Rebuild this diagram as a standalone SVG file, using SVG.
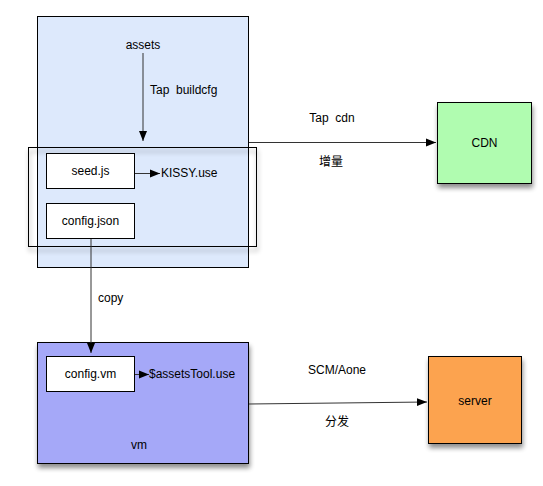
<svg xmlns="http://www.w3.org/2000/svg" width="543" height="486" viewBox="0 0 543 486">
<defs>
<filter id="sh" x="-20%" y="-20%" width="150%" height="150%">
<feGaussianBlur in="SourceAlpha" stdDeviation="2.5"/>
<feOffset dx="1" dy="4" result="b"/>
<feComponentTransfer><feFuncA type="linear" slope="0.45"/></feComponentTransfer>
<feMerge><feMergeNode/><feMergeNode in="SourceGraphic"/></feMerge>
</filter>
<marker id="ah" viewBox="0 0 10 10" refX="10" refY="5" markerWidth="10" markerHeight="10" markerUnits="userSpaceOnUse" orient="auto">
<path d="M0,1 L10,5 L0,9 Z" fill="#000"/>
</marker>
</defs>
<style>
text{font-family:"Liberation Sans","Noto Sans CJK SC",sans-serif;font-size:12px;fill:#000}
.m{text-anchor:middle}
.b{stroke:#000;stroke-width:1}
.c{stroke:#333;stroke-width:1;fill:none}
</style>
<rect width="543" height="486" fill="#fff"/>
<g id="assets">
<rect class="b" x="37.5" y="16.5" width="211" height="251" fill="#dde9fc"/>
<text class="m" x="143" y="49">assets</text>
</g>
<g id="frame">
<rect class="b" x="28.5" y="147.5" width="228" height="99" fill="none" filter="url(#sh)"/>
</g>
<g id="seed">
<rect class="b" x="46.5" y="153.5" width="88" height="35" fill="#fff"/>
<text class="m" x="90.5" y="175">seed.js</text>
</g>
<g id="configjson">
<rect class="b" x="46.5" y="203.5" width="88" height="35" fill="#fff"/>
<text class="m" x="90.5" y="225">config.json</text>
</g>
<g id="cdn">
<rect class="b" x="437.5" y="102.5" width="94" height="81" fill="#b0fcb0" filter="url(#sh)"/>
<text class="m" x="484.5" y="147">CDN</text>
</g>
<g id="vm">
<rect class="b" x="37.5" y="342.5" width="211" height="121" fill="#a5a8f8" filter="url(#sh)"/>
<text class="m" x="139" y="449">vm</text>
</g>
<g id="configvm">
<rect class="b" x="46.5" y="356.5" width="88" height="35" fill="#fff"/>
<text class="m" x="90.5" y="378">config.vm</text>
</g>
<g id="server">
<rect class="b" x="428.5" y="356.5" width="93" height="87" fill="#fca34f" filter="url(#sh)"/>
<text class="m" x="475" y="405">server</text>
</g>
<g id="connectors">
<line class="c" x1="143" y1="53" x2="143" y2="141" marker-end="url(#ah)"/>
<text x="150" y="94" xml:space="preserve">Tap  buildcfg</text>
<line class="c" x1="135" y1="173.5" x2="160" y2="173.5" marker-end="url(#ah)"/>
<text x="161" y="177">KISSY.use</text>
<line class="c" x1="249" y1="142.5" x2="436" y2="142.5" marker-end="url(#ah)"/>
<text class="m" x="332" y="122" xml:space="preserve">Tap  cdn</text>
<text class="m" x="331" y="166">增量</text>
<line class="c" x1="91" y1="239" x2="91" y2="353" marker-end="url(#ah)"/>
<text x="98" y="302">copy</text>
<line class="c" x1="135" y1="374.5" x2="149" y2="374.5" marker-end="url(#ah)"/>
<text x="149" y="378">$assetsTool.use</text>
<line class="c" x1="249" y1="404" x2="427" y2="402" marker-end="url(#ah)"/>
<text class="m" x="337" y="374">SCM/Aone</text>
<text class="m" x="337" y="426">分发</text>
</g>
</svg>
